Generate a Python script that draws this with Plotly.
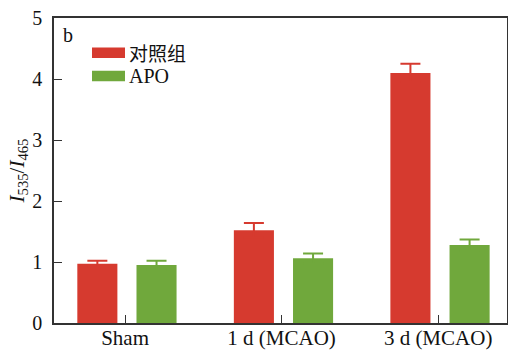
import plotly.graph_objects as go

# Fluorescence ratio I535/I465 per group
categories = ["Sham", "1 d (MCAO)", "3 d (MCAO)"]
control_vals = [0.97, 1.52, 4.10]
control_err = [0.05, 0.12, 0.15]
apo_vals = [0.95, 1.06, 1.28]
apo_err = [0.07, 0.08, 0.09]
series_names = ["对照组", "APO"]

RED = "rgb(214,58,47)"
GREEN = "rgb(112,168,60)"
SERIF = "Liberation Serif, Times New Roman, serif"
CJK = "Noto Sans CJK SC"

W, H = 508, 351
L, R, T, B = 54, 1, 18, 28

fig = go.Figure()
fig.add_trace(go.Bar(
    x=categories, y=control_vals, name=series_names[0],
    marker=dict(color=RED, line=dict(width=0)),
    width=0.256, offset=-0.305,
    error_y=dict(type="data", array=control_err, color=RED, thickness=2, width=10),
    showlegend=False,
))
fig.add_trace(go.Bar(
    x=categories, y=apo_vals, name=series_names[1],
    marker=dict(color=GREEN, line=dict(width=0)),
    width=0.256, offset=0.073,
    error_y=dict(type="data", array=apo_err, color=GREEN, thickness=2, width=10),
    showlegend=False,
))

# Hand-drawn legend: wide swatches with labels
pw = W - L - R
def px_to_paper_x(px):
    return (px - L) / pw

legend_rows = [(series_names[0], RED, 4.43, CJK, 19), (series_names[1], GREEN, 4.05, SERIF, 20)]
for label, color, yc, fam, fs in legend_rows:
    fig.add_shape(type="rect", xref="paper", yref="y",
                  x0=px_to_paper_x(92), x1=px_to_paper_x(125),
                  y0=yc - 0.085, y1=yc + 0.085,
                  fillcolor=color, line=dict(width=0))
    fig.add_annotation(xref="paper", yref="y", x=px_to_paper_x(127), y=yc,
                       text=label, showarrow=False, xanchor="left", yanchor="middle",
                       font=dict(family=fam, size=fs, color="#111"))

fig.add_annotation(xref="paper", yref="paper", x=px_to_paper_x(61), y=(H - B - 35) / (H - T - B),
                   text="b", showarrow=False, xanchor="left", yanchor="middle",
                   font=dict(family=SERIF, size=20, color="#111"))

axis_line = dict(showline=True, linecolor="#333", linewidth=1.5, mirror=True)

fig.update_layout(
    width=W, height=H,
    margin=dict(l=L, r=R, t=T, b=B),
    paper_bgcolor="white", plot_bgcolor="white",
    barmode="overlay",
    font=dict(family=SERIF, size=20, color="#111"),
    xaxis=dict(
        range=[-0.454, 2.44], ticks="inside", ticklen=8, tickwidth=1.2, tickcolor="#333",
        tickfont=dict(family=SERIF, size=21), showgrid=False, zeroline=False,
        ticklabelstandoff=-5, automargin=False, **axis_line,
    ),
    yaxis=dict(
        range=[0, 5], tickvals=[0, 1, 2, 3, 4, 5], ticks="inside", ticklen=8, tickwidth=1.2,
        tickcolor="#333", tickfont=dict(family=SERIF, size=20), showgrid=False, zeroline=False,
        ticklabelstandoff=6, automargin=False,
        title=dict(text="<i>I</i><sub>535</sub>/<i>I</i><sub>465</sub>",
                   font=dict(family=SERIF, size=21), standoff=2),
        **axis_line,
    ),
)

fig.write_html("out.html")
